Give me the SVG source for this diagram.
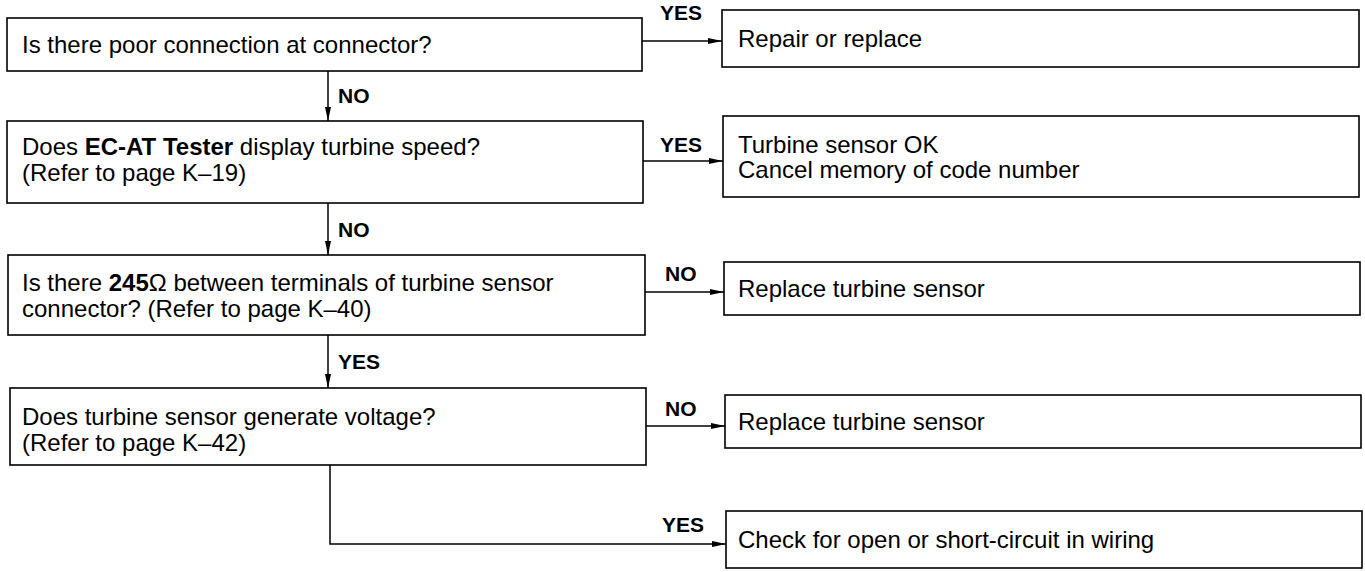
<svg xmlns="http://www.w3.org/2000/svg" width="1365" height="572" viewBox="0 0 1365 572">
<defs>
<style>
.box{fill:#fff;stroke:#000;stroke-width:1.6}
.t{font-family:"Liberation Sans",Arial,sans-serif;font-size:24px;fill:#000}
.b{font-weight:bold}
.lbl{font-family:"Liberation Sans",Arial,sans-serif;font-size:21px;font-weight:bold;fill:#000}
.ln{fill:none;stroke:#000;stroke-width:1.5}
</style>
<marker id="ah" viewBox="0 0 14 6" refX="14" refY="3" markerWidth="14" markerHeight="6" markerUnits="userSpaceOnUse" orient="auto">
<path d="M0,0 L14,3 L0,6 Z" fill="#000"/>
</marker>
</defs>
<rect width="1365" height="572" fill="#fff"/>
<g id="connectors">
<line class="ln" x1="642" y1="41" x2="722" y2="41" marker-end="url(#ah)"/>
<line class="ln" x1="328" y1="71" x2="328" y2="121" marker-end="url(#ah)"/>
<line class="ln" x1="643" y1="161" x2="723" y2="161" marker-end="url(#ah)"/>
<line class="ln" x1="328" y1="203" x2="328" y2="255" marker-end="url(#ah)"/>
<line class="ln" x1="645" y1="292" x2="724" y2="292" marker-end="url(#ah)"/>
<line class="ln" x1="328" y1="335" x2="328" y2="388" marker-end="url(#ah)"/>
<line class="ln" x1="646" y1="426" x2="725" y2="426" marker-end="url(#ah)"/>
<polyline class="ln" points="330,465 330,544 726,544" marker-end="url(#ah)"/>
<text class="lbl" x="660" y="20">YES</text>
<text class="lbl" x="338" y="103">NO</text>
<text class="lbl" x="660" y="152">YES</text>
<text class="lbl" x="338" y="237">NO</text>
<text class="lbl" x="665" y="281">NO</text>
<text class="lbl" x="338" y="369">YES</text>
<text class="lbl" x="665" y="416">NO</text>
<text class="lbl" x="662" y="532">YES</text>
</g>
<g id="q1">
<rect class="box" x="7" y="18" width="635" height="53"/>
<text class="t" x="22" y="53">Is there poor connection at connector?</text>
</g>
<g id="a1">
<rect class="box" x="722" y="10" width="637" height="57"/>
<text class="t" x="738" y="47">Repair or replace</text>
</g>
<g id="q2">
<rect class="box" x="7" y="121" width="636" height="82"/>
<text class="t" x="22" y="155">Does <tspan class="b">EC-AT Tester</tspan> display turbine speed?</text>
<text class="t" x="22" y="181">(Refer to page K–19)</text>
</g>
<g id="a2">
<rect class="box" x="723" y="116" width="636" height="81"/>
<text class="t" x="738" y="153">Turbine sensor OK</text>
<text class="t" x="738" y="178">Cancel memory of code number</text>
</g>
<g id="q3">
<rect class="box" x="8" y="255" width="637" height="80"/>
<text class="t" x="22" y="291">Is there <tspan class="b">245</tspan>Ω between terminals of turbine sensor</text>
<text class="t" x="22" y="317">connector? (Refer to page K–40)</text>
</g>
<g id="a3">
<rect class="box" x="724" y="262" width="636" height="53"/>
<text class="t" x="738" y="297">Replace turbine sensor</text>
</g>
<g id="q4">
<rect class="box" x="10" y="388" width="636" height="77"/>
<text class="t" x="22" y="425">Does turbine sensor generate voltage?</text>
<text class="t" x="22" y="451">(Refer to page K–42)</text>
</g>
<g id="a4">
<rect class="box" x="725" y="395" width="636" height="53"/>
<text class="t" x="738" y="430">Replace turbine sensor</text>
</g>
<g id="a5">
<rect class="box" x="726" y="511" width="636" height="57"/>
<text class="t" x="738" y="548">Check for open or short-circuit in wiring</text>
</g>
</svg>
